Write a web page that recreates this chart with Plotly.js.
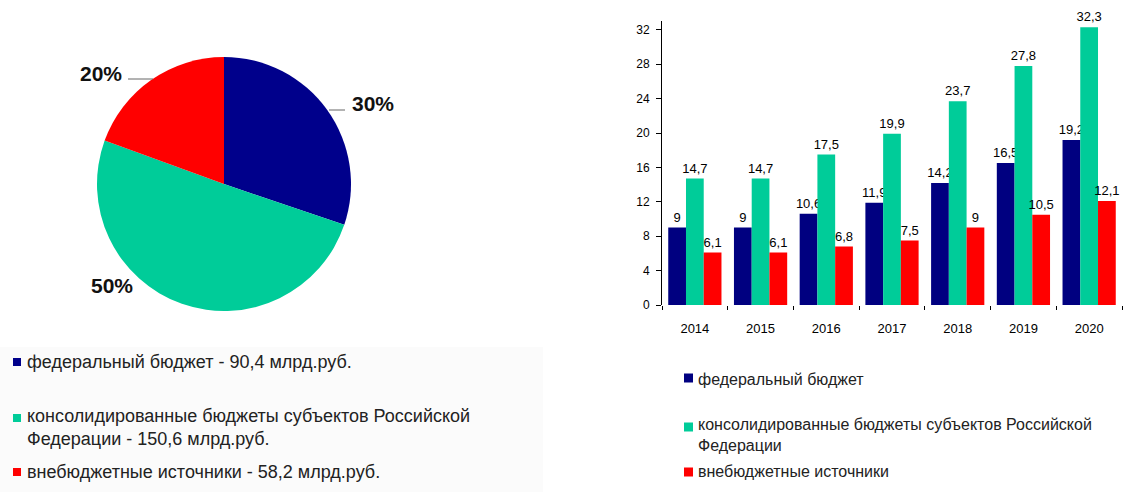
<!DOCTYPE html>
<html>
<head>
<meta charset="utf-8">
<script src="https://cdn.plot.ly/plotly-3.0.1.min.js"></script>
<style>
  body { margin: 0; background: #fff; }
  #chart { width: 1128px; height: 495px; }
</style>
</head>
<body>
<div id="chart"></div>
<script>
// pie: funding sources, bln rub
const srcNames = ['федеральный бюджет', 'консолидированные бюджеты субъектов Российской Федерации', 'внебюджетные источники'];
const srcValues = [90.4, 150.6, 58.2];
const srcPct = ['30%', '50%', '20%'];   // as printed on the slide
const srcLegend = [
  'федеральный бюджет - 90,4 млрд.руб.',
  'консолидированные бюджеты субъектов Российской<br>Федерации - 150,6 млрд.руб.',
  'внебюджетные источники - 58,2 млрд.руб.'
];

// bars by year
const years = ['2014', '2015', '2016', '2017', '2018', '2019', '2020'];
const fedVals = [9, 9, 10.6, 11.9, 14.2, 16.5, 19.2];
const regVals = [14.7, 14.7, 17.5, 19.9, 23.7, 27.8, 32.3];
const extVals = [6.1, 6.1, 6.8, 7.5, 9, 10.5, 12.1];
const barLegend = [
  'федеральный бюджет',
  'консолидированные бюджеты субъектов Российской<br>Федерации',
  'внебюджетные источники'
];

const colors = ['#00008b', '#00cc99', '#ff0000'];
const barColors = ['#000080', '#00cc99', '#ff0000'];
const FONT = 'Liberation Sans, Arial, sans-serif';

const fmt = v => String(v).replace('.', ',');

const W = 1128, H = 495;
const px = x => x / W;
const py = y => 1 - y / H;

const pie = {
  type: 'pie',
  labels: srcNames,
  values: srcValues,
  marker: { colors: colors, line: { width: 0 } },
  sort: false,
  direction: 'clockwise',
  rotation: 0,
  textinfo: 'none',
  showlegend: false,
  domain: { x: [px(97), px(351)], y: [py(311), py(57)] }
};

function barTrace(name, vals, color) {
  return {
    type: 'bar',
    name: name,
    x: years,
    y: vals,
    text: vals.map(fmt),
    textposition: 'outside',
    constraintext: 'none',
    cliponaxis: false,
    textfont: { family: FONT, size: 13, color: '#000' },
    marker: { color: color },
    showlegend: false,
    xaxis: 'x',
    yaxis: 'y'
  };
}

const data = [
  pie,
  barTrace(srcNames[0], fedVals, barColors[0]),
  barTrace(srcNames[1], regVals, barColors[1]),
  barTrace(srcNames[2], extVals, barColors[2])
];

// pie percentage labels
const pctPos = [[373, 103], [112, 285], [101, 73]];
const annotations = srcPct.map((t, i) => ({
  xref: 'paper', yref: 'paper',
  x: px(pctPos[i][0]), y: py(pctPos[i][1]),
  xanchor: 'center', yanchor: 'middle',
  text: t,
  showarrow: false,
  font: { family: FONT, size: 21, color: '#111', weight: 'bold' }
}));

const shapes = [
  // faint box behind the left legend
  { type: 'rect', xref: 'paper', yref: 'paper', x0: 0, x1: px(543), y0: py(492), y1: py(347),
    fillcolor: '#fbfbfb', line: { width: 0 }, layer: 'below' },
  // leader lines
  { type: 'line', xref: 'paper', yref: 'paper', x0: px(329), x1: px(345), y0: py(110), y1: py(110),
    line: { color: '#666', width: 1 } },
  { type: 'line', xref: 'paper', yref: 'paper', x0: px(128), x1: px(153), y0: py(79), y1: py(79),
    line: { color: '#666', width: 1 } }
];

// left legend
const leftY = [362, 427, 472];
const leftSq = [362, 418, 472];
srcLegend.forEach((t, i) => {
  annotations.push({
    xref: 'paper', yref: 'paper', x: px(25), y: py(leftY[i]),
    xanchor: 'left', yanchor: 'middle', align: 'left',
    text: t, showarrow: false,
    font: { family: FONT, size: 18, color: '#222' }
  });
  shapes.push({ type: 'rect', xref: 'paper', yref: 'paper',
    x0: px(13), x1: px(21), y0: py(leftSq[i] + 4), y1: py(leftSq[i] - 4),
    fillcolor: colors[i], line: { width: 0 } });
});

// right legend
const rightY = [379, 435, 471];
const rightSq = [378, 427, 472];
barLegend.forEach((t, i) => {
  annotations.push({
    xref: 'paper', yref: 'paper', x: px(696), y: py(rightY[i]),
    xanchor: 'left', yanchor: 'middle', align: 'left',
    text: t, showarrow: false,
    font: { family: FONT, size: 16, color: '#222' }
  });
  shapes.push({ type: 'rect', xref: 'paper', yref: 'paper',
    x0: px(684), x1: px(693), y0: py(rightSq[i] + 4.5), y1: py(rightSq[i] - 4.5),
    fillcolor: barColors[i], line: { width: 0 } });
});

const yDomain = [py(305), py(305 - 33 * 8.6)];

const layout = {
  width: W, height: H,
  margin: { l: 0, r: 0, t: 0, b: 0 },
  paper_bgcolor: '#fff',
  plot_bgcolor: 'rgba(0,0,0,0)',
  font: { family: FONT, color: '#000' },
  barmode: 'group',
  bargap: 0.19,
  bargroupgap: 0,
  xaxis: {
    domain: [px(662), px(1122)],
    anchor: 'y',
    type: 'category',
    showgrid: false, zeroline: false, showline: false,
    ticks: 'outside', tickson: 'boundaries', ticklen: 4, tickcolor: '#000',
    ticklabelstandoff: 14,
    tickfont: { family: FONT, size: 13, color: '#000' }
  },
  yaxis: {
    domain: yDomain,
    anchor: 'x',
    range: [0, 33],
    dtick: 4, tick0: 0,
    showgrid: false, zeroline: false,
    showline: true, linecolor: '#000', linewidth: 1,
    ticks: 'outside', ticklen: 5, tickcolor: '#000',
    ticklabelstandoff: 4,
    tickfont: { family: FONT, size: 12, color: '#000' }
  },
  // second copy of the y axis only to let the ticks cross the axis line
  yaxis2: {
    overlaying: 'y',
    matches: 'y',
    anchor: 'x',
    side: 'left',
    dtick: 4, tick0: 0,
    showgrid: false, zeroline: false, showline: false,
    ticks: 'inside', ticklen: 5, tickcolor: '#000',
    showticklabels: false
  },
  annotations: annotations,
  shapes: shapes
};

Plotly.newPlot('chart', data, layout, { displayModeBar: false, staticPlot: true });
</script>
</body>
</html>
